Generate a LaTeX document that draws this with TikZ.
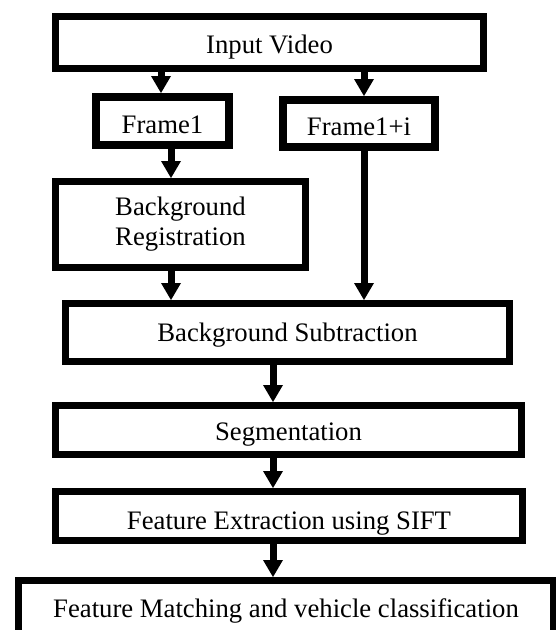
\documentclass[tikz,border=0pt]{standalone}
\usepackage{fontspec}
\setmainfont{Liberation Serif}
\usetikzlibrary{arrows.meta}
\begin{document}
\begin{tikzpicture}[x=1pt,y=-1pt,
  box/.style={draw, line width=7pt, inner sep=0pt, font=\fontsize{26.7}{30}\selectfont, align=center},
  tb/.style={text height=#1, text depth=0pt},
  flow/.style={line width=7pt, -{Triangle[width=20pt,length=17pt,line width=0pt]}}]
\useasboundingbox (0,0) rectangle (556,630);
\clip (0,0) rectangle (556,630);
\node[box, tb=21pt, minimum width=428pt, minimum height=52pt] (iv) at (269.5,42.5) {Input Video};
\node[box, line width=8pt, tb=24pt, minimum width=133pt, minimum height=48pt] (f1) at (162.5,121) {Frame1};
\node[box, line width=8pt, tb=23pt, minimum width=152pt, minimum height=47pt] (f1i) at (359,123.5) {Frame1+i};
\node[box, minimum width=250pt, minimum height=86pt] (bgr) at (180.5,224.5) {Background\\Registration};
\node[box, tb=17pt, minimum width=444pt, minimum height=58pt] (bgs) at (287.5,332.5) {Background Subtraction};
\node[box, tb=20pt, minimum width=466pt, minimum height=49pt] (seg) at (288.5,430) {Segmentation};
\node[box, tb=26pt, minimum width=467pt, minimum height=49pt] (fe) at (289,516) {Feature Extraction using SIFT};
\node[box, tb=20pt, minimum width=535pt, minimum height=53pt] (fm) at (286,607) {Feature Matching and vehicle classification};
\coordinate (xa) at (161,0);
\coordinate (xb) at (364,0);
\coordinate (xc) at (171,0);
\coordinate (xd) at (273,0);
\draw[flow] (iv.south -| xa) -- (f1.north -| xa);
\draw[flow] (iv.south -| xb) -- (f1i.north -| xb);
\draw[flow] (f1.south -| xc) -- (bgr.north -| xc);
\draw[flow] (f1i.south -| xb) -- (bgs.north -| xb);
\draw[flow] (bgr.south -| xc) -- (bgs.north -| xc);
\draw[flow] (bgs.south -| xd) -- (seg.north -| xd);
\draw[flow] (seg.south -| xd) -- (fe.north -| xd);
\draw[flow] (fe.south -| xd) -- (fm.north -| xd);
\end{tikzpicture}
\end{document}
